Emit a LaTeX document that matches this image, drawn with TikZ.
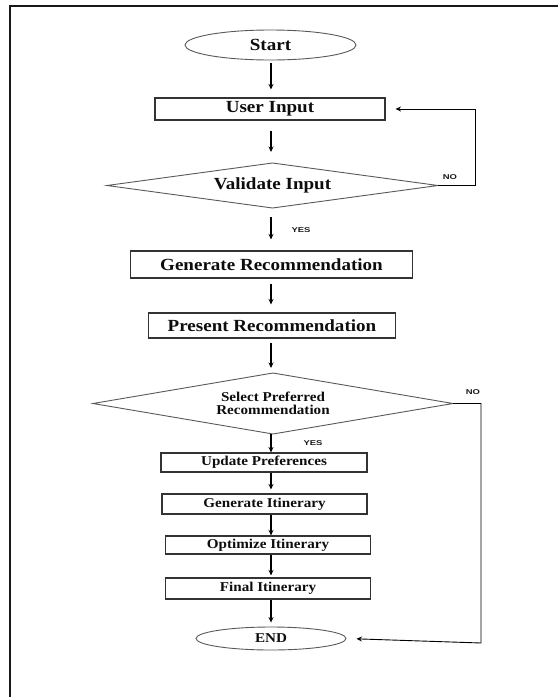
\documentclass[tikz,border=0pt]{standalone}
\usepackage{fontspec}
\usetikzlibrary{shapes.geometric,arrows.meta}
\newfontfamily\boxfont{Liberation Serif}[FakeStretch=1.12]
\newfontfamily\tagfont{Liberation Sans}[FakeStretch=1.35]
\begin{document}
\begin{tikzpicture}[x=1pt,y=-1pt,
  procbox/.style={rectangle,draw=black!80,line width=1.1pt,inner sep=0pt,text=black!95,
    font=\boxfont\bfseries\fontsize{17}{19}\selectfont},
  smallbox/.style={procbox,font=\boxfont\bfseries\fontsize{13.5}{14}\selectfont},
  terminal/.style={ellipse,draw=black!65,line width=0.9pt,inner sep=0pt,text=black!95},
  decision/.style={rectangle,inner sep=0pt,outer sep=0pt,text=black!95},
  decisionedge/.style={draw=black!65,line width=0.9pt,line join=miter},
  flow/.style={draw=black,line width=1.1pt,-{Stealth[length=5.5pt,width=5pt]}},
  tag/.style={font=\tagfont\bfseries\fontsize{7}{8}\selectfont,inner sep=0pt,text=black!90}]
\useasboundingbox (0,0) rectangle (558,697);
% page frame: top and left rules
\draw[line width=2.5pt,black!90] (558,6) -- (10,6) -- (10,697);

% vertical spine for the main flow arrows
\coordinate (spine) at (271,0);

% nodes
\node[terminal,minimum width=171pt,minimum height=30pt,font=\boxfont\bfseries\fontsize{17}{19}\selectfont] (start) at (270.5,45) {Start};
\node[procbox,minimum width=230pt,minimum height=22pt] (user) at (270,109) {User Input};
\node[decision,minimum width=331pt,minimum height=45pt,font=\boxfont\bfseries\fontsize{17}{19}\selectfont] (validate) at (272.5,185.5) {Validate Input};
\node[procbox,minimum width=282pt,minimum height=27pt] (genrec) at (271.5,264.5) {Generate Recommendation};
\node[procbox,minimum width=247pt,minimum height=25pt] (presrec) at (272,325.5) {Present Recommendation};
\node[decision,minimum width=360pt,minimum height=61pt,align=center,font=\boxfont\bfseries\fontsize{13.5}{13}\selectfont] (select) at (273,403.5) {Select Preferred\\Recommendation};
\node[smallbox,minimum width=206pt,minimum height=19pt] (update) at (264,462.5) {Update Preferences};
\node[smallbox,minimum width=205pt,minimum height=20pt] (geniti) at (264.5,504) {Generate Itinerary};
\node[smallbox,minimum width=205pt,minimum height=18pt] (optim) at (268,545) {Optimize Itinerary};
\node[smallbox,minimum width=205pt,minimum height=21pt] (final) at (268,588.5) {Final Itinerary};
\node[terminal,minimum width=150pt,minimum height=23pt,font=\boxfont\bfseries\fontsize{13.5}{14}\selectfont] (endn) at (271,638.5) {END};

% decision outlines through the anchors of their nodes
\draw[decisionedge] (validate.north) -- (validate.east) -- (validate.south) -- (validate.west) -- cycle;
\draw[decisionedge] (select.north) -- (select.east) -- (select.south) -- (select.west) -- cycle;

% main flow
\draw[flow,shorten <=3pt,shorten >=8pt] (start.south -| spine) -- (user.north -| spine);
\draw[flow,shorten <=10pt,shorten >=11pt] (user.south -| spine) -- (validate.north -| spine);
\draw[flow,shorten <=9pt,shorten >=11pt] (validate.south -| spine) -- (genrec.north -| spine);
\draw[flow,shorten <=5pt,shorten >=8pt] (genrec.south -| spine) -- (presrec.north -| spine);
\draw[flow,shorten <=4pt,shorten >=5pt] (presrec.south -| spine) -- (select.north -| spine);
\draw[flow] (select.south -| spine) -- (update.north -| spine);
\draw[flow,shorten >=4pt] (update.south -| spine) -- (geniti.north -| spine);
\draw[flow] (geniti.south -| spine) -- (optim.north -| spine);
\draw[flow,shorten >=2pt] (optim.south -| spine) -- (final.north -| spine);
\draw[flow,shorten >=4pt] (final.south -| spine) -- (endn.north -| spine);

% "no" branches
\coordinate (loopA) at (475,0);
\coordinate (loopB) at (481,643);
\draw[flow,line width=0.9pt,shorten >=10pt] (validate.east) -| (loopA |- user.east) -- (user.east);
\draw[flow,line width=0.9pt,shorten >=10pt] (select.east) -| (loopB) -- (endn.east);

% branch labels
\node[tag] (no1) at (450,177) {NO};
\node[tag] (yes1) at (301,230) {YES};
\node[tag] (no2) at (473,392) {NO};
\node[tag] (yes2) at (313,443) {YES};
\end{tikzpicture}
\end{document}
